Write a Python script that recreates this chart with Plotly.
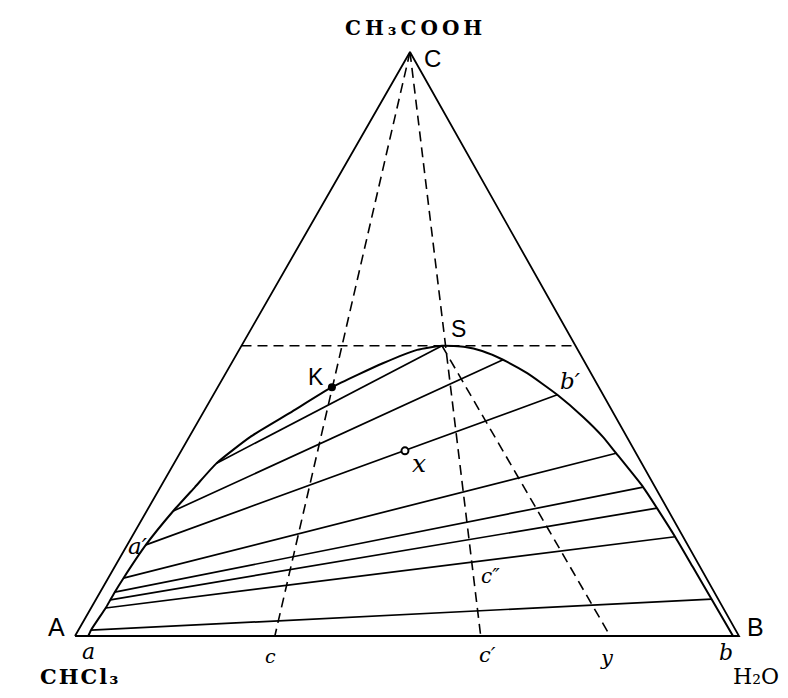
import plotly.graph_objects as go

# ---------------- data: compositions in mass % as (CHCl3, H2O, CH3COOH) ----------------
vertex_A = (100.0, 0.0, 0.0)   # CHCl3
vertex_B = (0.0, 100.0, 0.0)   # H2O
vertex_C = (0.0, 0.0, 100.0)   # CH3COOH

binodal = [
    (98.0, 2.0, 0.0), (97.1, 1.9, 1.0), (93.0, 2.2, 4.8), (91.7, 2.2, 6.2),
    (90.3, 2.2, 7.5), (87.8, 2.3, 9.9), (81.6, 2.8, 15.6), (74.6, 4.0, 21.4),
    (69.3, 5.2, 25.5), (63.9, 6.4, 29.6), (56.7, 9.2, 34.1), (48.7, 13.1, 38.2),
    (40.2, 17.2, 42.6), (30.4, 22.8, 46.7), (24.2, 26.8, 49.0), (20.1, 30.2, 49.7),
    (16.8, 33.8, 49.5), (14.5, 36.7, 48.8), (12.1, 40.6, 47.3), (9.6, 45.4, 45.0),
    (7.0, 51.8, 41.3), (4.9, 57.6, 37.5), (3.6, 62.3, 34.1), (3.0, 65.7, 31.3),
    (1.8, 72.7, 25.5), (1.5, 76.6, 21.9), (1.2, 81.8, 17.0), (1.1, 87.1, 11.8),
    (0.9, 92.7, 6.3), (0.9, 99.1, 0.0),
]

tie_left = [
    (97.1, 1.9, 1.0), (93.0, 2.2, 4.8), (91.7, 2.2, 6.2), (90.3, 2.2, 7.5),
    (87.8, 2.3, 9.9), (81.6, 2.8, 15.6), (74.6, 4.0, 21.4), (63.9, 6.4, 29.6),
]
tie_right = [
    (0.9, 92.7, 6.3), (1.2, 81.8, 17.0), (1.5, 76.6, 21.9), (1.8, 72.7, 25.5),
    (3.0, 65.7, 31.3), (7.0, 51.8, 41.3), (12.1, 40.6, 47.3), (20.1, 30.2, 49.7),
]

point_K = (40.2, 17.2, 42.6)
point_x = (34.6, 33.7, 31.7)
point_S = (20.1, 30.2, 49.7)
base_c = (69.9, 30.1, 0.0)
base_c1 = (38.9, 61.1, 0.0)
base_y = (19.4, 80.6, 0.0)
horiz_left = (50.3, 0.0, 49.7)
horiz_right = (0.0, 50.3, 49.7)

dashed_segments = [
    (vertex_C, base_c),
    (vertex_C, base_c1),
    (point_S, base_y),
    (horiz_left, horiz_right),
]

# ---------------- geometry helpers ----------------
APEX_X = 0.5045  # horizontal position of the apex relative to base


def to_xy(comp):
    a, b, c = comp
    return (b + APEX_X * c) / 100.0, c / 100.0


def polyline(points):
    xs, ys = [], []
    for p in points:
        x, y = to_xy(p)
        xs.append(x)
        ys.append(y)
    return xs, ys


def segments(pairs):
    xs, ys = [], []
    for p, q in pairs:
        for r in (p, q):
            x, y = to_xy(r)
            xs.append(x)
            ys.append(y)
        xs.append(None)
        ys.append(None)
    return xs, ys


fig = go.Figure()

tx, ty = polyline([vertex_A, vertex_B, vertex_C, vertex_A])
fig.add_trace(go.Scatter(x=tx, y=ty, mode="lines", line=dict(color="black", width=1.8),
                         hoverinfo="skip"))

bx, by = polyline(binodal)
fig.add_trace(go.Scatter(x=bx, y=by, mode="lines",
                         line=dict(color="black", width=2, shape="spline", smoothing=0.5),
                         hoverinfo="skip"))

sx, sy = segments(list(zip(tie_left, tie_right)))
fig.add_trace(go.Scatter(x=sx, y=sy, mode="lines", line=dict(color="black", width=1.7),
                         hoverinfo="skip"))

dx, dy = segments(dashed_segments)
fig.add_trace(go.Scatter(x=dx, y=dy, mode="lines",
                         line=dict(color="black", width=1.6, dash="10px,6px"),
                         hoverinfo="skip"))

kx, ky = to_xy(point_K)
fig.add_trace(go.Scatter(x=[kx], y=[ky], mode="markers",
                         marker=dict(color="black", size=8), hoverinfo="skip"))
xx, xy = to_xy(point_x)
fig.add_trace(go.Scatter(x=[xx], y=[xy], mode="markers",
                         marker=dict(color="white", size=7, line=dict(color="black", width=2)),
                         hoverinfo="skip"))

W, H = 788, 698
# plot area maps base A..B to pixels 75..739 and height 0..1 to pixels 636..52
x0 = -75 / 664
x1 = (W - 75) / 664
y0 = -(H - 636) / 584
y1 = 636 / 584

SANS = "Liberation Sans"
SERIF = "DejaVu Serif"

labels = [
    ("<span style='letter-spacing:4px'><b>CH₃COOH</b></span>", 415, 28, SERIF, 20),
    ("C", 432, 59, SANS, 24),
    ("S", 458, 329, SANS, 23),
    ("K", 316, 377, SANS, 23),
    ("A", 57, 627, SANS, 25),
    ("B", 755, 627, SANS, 25),
    ("<i>a′</i>", 138, 546, SERIF, 23),
    ("<i>b′</i>", 570, 381, SERIF, 23),
    ("<i>x</i>", 419, 463, SERIF, 25),
    ("<i>c″</i>", 490, 576, SERIF, 20),
    ("<i>a</i>", 88, 651, SERIF, 22),
    ("<i>c</i>", 270, 656, SERIF, 19),
    ("<i>c′</i>", 487, 655, SERIF, 21),
    ("<i>y</i>", 607, 658, SERIF, 21),
    ("<i>b</i>", 726, 652, SERIF, 22),
    ("<span style='letter-spacing:2px'><b>CHCl₃</b></span>", 80, 676, SERIF, 21),
    ("H₂O", 756, 676, SERIF, 22),
]

annotations = []
for text, px, py, fam, size in labels:
    annotations.append(dict(
        text=text, x=px / W, y=1 - py / H, xref="paper", yref="paper",
        showarrow=False, xanchor="center", yanchor="middle",
        font=dict(family=fam, size=size, color="black"),
    ))

fig.update_layout(
    width=W, height=H, autosize=False,
    margin=dict(l=0, r=0, t=0, b=0, pad=0),
    paper_bgcolor="white", plot_bgcolor="white",
    showlegend=False,
    xaxis=dict(range=[x0, x1], visible=False, fixedrange=True),
    yaxis=dict(range=[y0, y1], visible=False, fixedrange=True),
    annotations=annotations,
)

fig.write_html("out.html", config={"displayModeBar": False},
               post_script="document.body.style.margin='0';")
